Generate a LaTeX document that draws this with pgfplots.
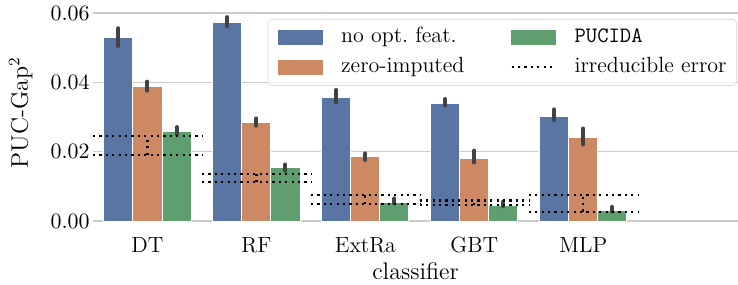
\documentclass[border=0pt]{standalone}
\usepackage{pgfplots}
\pgfplotsset{compat=1.18}
\definecolor{cblue}{HTML}{5875A4}
\definecolor{corange}{HTML}{CC8963}
\definecolor{cgreen}{HTML}{5F9E6E}
\definecolor{cerr}{HTML}{424242}
\definecolor{cgrid}{HTML}{CCCCCC}
\begin{document}
\begin{tikzpicture}
\useasboundingbox (-46.5pt,-31.5pt) rectangle (322.5pt,110.5pt);
\begin{axis}[
  scale only axis, width=322.5pt, height=110.5pt,
  xmin=-0.5, xmax=5.42, ymin=0, ymax=0.06375,
  xtick={0,1,2,3,4}, xticklabels={DT,RF,ExtRa,GBT,MLP},
  ytick={0,0.02,0.04,0.06},
  scaled y ticks=false,
  yticklabel style={/pgf/number format/fixed, /pgf/number format/fixed zerofill, /pgf/number format/precision=2, anchor=east, xshift=-1.5pt, inner sep=0pt},
  tick label style={font=\fontsize{11}{13}\selectfont},
  xticklabel style={anchor=base, yshift=-15.5pt, inner sep=0pt},
  major tick length=0pt,
  ymajorgrids, grid style={draw=cgrid, line width=0.6pt},
  axis x line*=bottom, axis y line*=left,
  x axis line style={-, draw=cgrid, line width=1pt},
  y axis line style={draw=none},
  xlabel={classifier}, ylabel={PUC-Gap$^2$},
  label style={font=\fontsize{12}{14}\selectfont},
  xlabel style={at={(axis description cs:0.5,0)}, anchor=base, yshift=-29pt, inner sep=0pt},
  ylabel style={at={(axis description cs:-0.1008,0.49)}, anchor=base, inner sep=0pt},
  unbounded coords=jump,
  legend columns=2, transpose legend,
  legend style={at={(axis description cs:1,1)}, anchor=north east, xshift=-0.5pt, yshift=-9.5pt,
    font=\fontsize{11}{13}\selectfont, draw=black!12, fill=white, fill opacity=0.8, text opacity=1,
    rounded corners=2pt, inner xsep=5pt, inner ysep=4pt, row sep=5pt,
    nodes={inner sep=0pt, text height=7.7pt, text depth=2.3pt},
    /tikz/every odd column/.append style={column sep=9pt},
    /tikz/every even column/.append style={column sep=23pt}},
  legend cell align=left,
  every axis plot/.append style={bar width=0.2667, bar shift=0pt},
]
\addplot[ybar, fill=cblue, draw=white, line width=0.5pt,
  legend image code/.code={\fill[cblue, fill opacity=1, sharp corners] (0pt,-3.5pt) rectangle (22pt,3.5pt);},
  error bars/.cd, y dir=both, y explicit, error mark=none,
  error bar style={draw=cerr, line width=2pt, line cap=round}]
  coordinates {
  (-0.2667,0.0530) += (0,0.0026) -= (0,0.0025)
  (0.7333,0.0573) += (0,0.0015) -= (0,0.0011)
  (1.7333,0.0356) += (0,0.0022) -= (0,0.0014)
  (2.7333,0.0339) += (0,0.0013) -= (0,0.0006)
  (3.7333,0.0300) += (0,0.0022) -= (0,0.0009)
  };
\addlegendentry{no opt.\ feat.}
\addplot[ybar, fill=corange, draw=white, line width=0.5pt,
  legend image code/.code={\fill[corange, fill opacity=1, sharp corners] (0pt,-3.5pt) rectangle (22pt,3.5pt);},
  error bars/.cd, y dir=both, y explicit, error mark=none,
  error bar style={draw=cerr, line width=2pt, line cap=round}]
  coordinates {
  (0,0.0387) += (0,0.0015) -= (0,0.0011)
  (1,0.0284) += (0,0.0012) -= (0,0.0009)
  (2,0.0185) += (0,0.0010) -= (0,0.0009)
  (3,0.0181) += (0,0.0022) -= (0,0.0012)
  (4,0.0241) += (0,0.0026) -= (0,0.0020)
  };
\addlegendentry{zero-imputed}
\addplot[ybar, fill=cgreen, draw=white, line width=0.5pt,
  legend image code/.code={\fill[cgreen, fill opacity=1, sharp corners] (0pt,-3.5pt) rectangle (22pt,3.5pt);},
  error bars/.cd, y dir=both, y explicit, error mark=none,
  error bar style={draw=cerr, line width=2pt, line cap=round}]
  coordinates {
  (0.2667,0.0258) += (0,0.0013) -= (0,0.0008)
  (1.2667,0.0153) += (0,0.0010) -= (0,0.0008)
  (2.2667,0.0053) += (0,0.0012) -= (0,0.0002)
  (3.2667,0.0044) += (0,0.0012) -= (0,0.0001)
  (4.2667,0.0030) += (0,0.0011) -= (0,0.0003)
  };
\addlegendentry{\texttt{PUCIDA}}
\addplot[black, line width=1.1pt, dash pattern=on 1.1pt off 2.1pt,
  legend image code/.code={\draw[black, line width=1.1pt, dash pattern=on 1.1pt off 2.1pt, draw opacity=1] (0pt,0pt) -- (22pt,0pt);}]
  coordinates {
  (-0.5,0.0246) (0.5,0.0246) (0.5,nan)
  (-0.5,0.0191) (0.5,0.0191) (0.5,nan)
  (0,0.0191) (0,0.0246) (0,nan)
  (0.5,0.0136) (1.5,0.0136) (1.5,nan)
  (0.5,0.0112) (1.5,0.0112) (1.5,nan)
  (1,0.0112) (1,0.0136) (1,nan)
  (1.5,0.0074) (2.5,0.0074) (2.5,nan)
  (1.5,0.0049) (2.5,0.0049) (2.5,nan)
  (2,0.0049) (2,0.0074) (2,nan)
  (2.5,0.0059) (3.5,0.0059) (3.5,nan)
  (2.5,0.0046) (3.5,0.0046) (3.5,nan)
  (3,0.0046) (3,0.0059) (3,nan)
  (3.5,0.0074) (4.5,0.0074) (4.5,nan)
  (3.5,0.0027) (4.5,0.0027) (4.5,nan)
  (4,0.0027) (4,0.0074)
  };
\addlegendentry{irreducible error}
\end{axis}
\end{tikzpicture}
\end{document}
